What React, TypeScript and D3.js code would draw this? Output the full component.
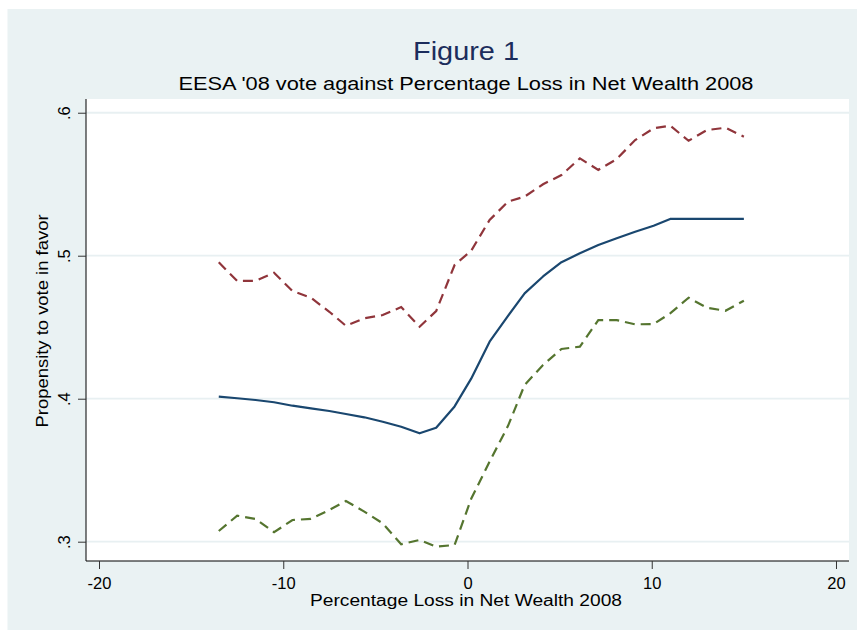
import { useEffect, useRef } from "react";
import * as d3 from "d3";

// Percentage loss in net wealth 2008 (x) and the fitted propensity with its band
const lossPct = [
  -13.5, -12.5, -11.5, -10.5, -9.5, -8.5, -7.5, -6.6, -5.6, -4.6, -3.6, -2.6, -1.7, -0.7, 0.2,
  1.2, 2.2, 3.1, 4.1, 5.1, 6.1, 7.1, 8.1, 9.1, 10.1, 11.0, 12.0, 13.0, 14.0, 15.0,
];
const fitted = [
  0.4014, 0.4003, 0.3991, 0.3975, 0.3951, 0.3933, 0.3914, 0.3893, 0.387, 0.3839, 0.3804, 0.3758,
  0.3797, 0.3946, 0.414, 0.4399, 0.458, 0.4737, 0.4855, 0.4955, 0.5017, 0.5075, 0.5122, 0.5168,
  0.521, 0.5257, 0.5257, 0.5257, 0.5257, 0.5257,
];
const upper = [
  0.4954, 0.4823, 0.4825, 0.4881, 0.4753, 0.4706, 0.4608, 0.451, 0.4562, 0.4585, 0.4641, 0.4503,
  0.4613, 0.4935, 0.5035, 0.525, 0.5378, 0.5413, 0.55, 0.5564, 0.5681, 0.56, 0.5676, 0.5809,
  0.5891, 0.591, 0.5804, 0.5879, 0.5895, 0.5832,
];
const lower = [
  0.3075, 0.3182, 0.3159, 0.3066, 0.3152, 0.3159, 0.3222, 0.3285, 0.321, 0.3128, 0.2982, 0.3012,
  0.2965, 0.2977, 0.33, 0.356, 0.381, 0.4096, 0.4236, 0.4348, 0.4364, 0.455, 0.455, 0.452,
  0.4522, 0.4597, 0.4706, 0.4636, 0.4615, 0.4685,
];
const xTicks = [-20, -10, 0, 10, 20];
const yTicks = [0.3, 0.4, 0.5, 0.6];
const yTickLabels = [".3", ".4", ".5", ".6"];

const W = 857;
const H = 630;
const FONT = "'Liberation Sans', Arial, Helvetica, sans-serif";

const Chart = () => {
  const svgRef = useRef<SVGSVGElement>(null);

  useEffect(() => {
    const svg = d3.select(svgRef.current);
    svg.selectAll("*").remove();

    const plot = { left: 86, right: 849, top: 99, bottom: 561 };

    // outer graph region
    svg.append("rect").attr("x", 7.5).attr("y", 9).attr("width", W - 7.5).attr("height", H - 9).attr("fill", "#eaf2f3");
    svg
      .append("rect")
      .attr("x", plot.left)
      .attr("y", plot.top)
      .attr("width", plot.right - plot.left)
      .attr("height", plot.bottom - plot.top)
      .attr("fill", "#ffffff");

    const x = d3.scaleLinear().domain([-20.706, 20.706]).range([plot.left, plot.right]);
    const y = d3.scaleLinear().domain([0.2865, 0.6096]).range([plot.bottom, plot.top]);

    // gridlines
    svg
      .append("g")
      .selectAll("line")
      .data(yTicks)
      .join("line")
      .attr("x1", plot.left)
      .attr("x2", plot.right)
      .attr("y1", (d) => y(d))
      .attr("y2", (d) => y(d))
      .attr("stroke", "#e8f0f2")
      .attr("stroke-width", 1.8);

    const pts = (vals: number[]) => lossPct.map((v, i) => [v, vals[i]] as [number, number]);
    const line = d3
      .line<[number, number]>()
      .x((d) => x(d[0]))
      .y((d) => y(d[1]));

    svg.append("path").attr("d", line(pts(upper))).attr("fill", "none").attr("stroke", "#90353b")
      .attr("stroke-width", 2.2).attr("stroke-dasharray", "10,6");
    svg.append("path").attr("d", line(pts(lower))).attr("fill", "none").attr("stroke", "#55752f")
      .attr("stroke-width", 2.2).attr("stroke-dasharray", "10,6");
    svg.append("path").attr("d", line(pts(fitted))).attr("fill", "none").attr("stroke", "#1a476f")
      .attr("stroke-width", 2.2).attr("stroke-linejoin", "round");

    // x axis
    const gx = svg
      .append("g")
      .attr("transform", `translate(0,${plot.bottom})`)
      .call(d3.axisBottom(x).tickValues(xTicks).tickSize(8).tickSizeOuter(0).tickFormat(d3.format("d")));
    gx.select(".domain").attr("d", `M${plot.left},0H${plot.right}`).attr("stroke", "#000");
    gx.selectAll(".tick line").attr("stroke", "#333");
    gx.selectAll(".tick text").attr("y", 28).attr("dy", 0).attr("font-size", 16.5).attr("font-family", FONT).attr("fill", "#000")
      .text((d: any) => (d < 0 ? "-" + Math.abs(d) : String(d)));

    // y axis
    const gy = svg
      .append("g")
      .attr("transform", `translate(${plot.left},0)`)
      .call(d3.axisLeft(y).tickValues(yTicks).tickSize(8).tickSizeOuter(0).tickFormat((d, i) => yTickLabels[i]));
    gy.select(".domain").attr("d", `M0,${plot.top}V${plot.bottom}`).attr("stroke", "#000");
    gy.selectAll(".tick line").attr("stroke", "#333");
    gy.selectAll(".tick text")
      .attr("transform", "rotate(-90)")
      .attr("x", 0)
      .attr("y", -16)
      .attr("dy", 0)
      .attr("text-anchor", "middle")
      .attr("font-size", 16.5)
      .attr("font-family", FONT)
      .attr("fill", "#000");

    // titles and axis labels
    svg.append("text").attr("x", 466).attr("y", 60).attr("text-anchor", "middle").attr("font-family", FONT)
      .attr("font-size", 25).attr("fill", "#1c2d5c").attr("textLength", 106).attr("lengthAdjust", "spacingAndGlyphs")
      .text("Figure 1");
    svg.append("text").attr("x", 466).attr("y", 89.5).attr("text-anchor", "middle").attr("font-family", FONT)
      .attr("font-size", 17.5).attr("fill", "#000").attr("textLength", 575).attr("lengthAdjust", "spacingAndGlyphs")
      .text("EESA '08 vote against Percentage Loss in Net Wealth 2008");
    svg.append("text").attr("x", 466).attr("y", 606).attr("text-anchor", "middle").attr("font-family", FONT)
      .attr("font-size", 16).attr("fill", "#000").attr("textLength", 312).attr("lengthAdjust", "spacingAndGlyphs")
      .text("Percentage Loss in Net Wealth 2008");
    svg.append("text").attr("transform", "translate(48,321) rotate(-90)").attr("text-anchor", "middle")
      .attr("font-family", FONT).attr("font-size", 16.5).attr("fill", "#000").attr("textLength", 213)
      .attr("lengthAdjust", "spacingAndGlyphs").text("Propensity to vote in favor");
  }, []);

  return <svg ref={svgRef} width={W} height={H} style={{ position: "absolute", left: 0, top: 0 }}></svg>;
};

export default function App() {
  return <Chart />;
}
